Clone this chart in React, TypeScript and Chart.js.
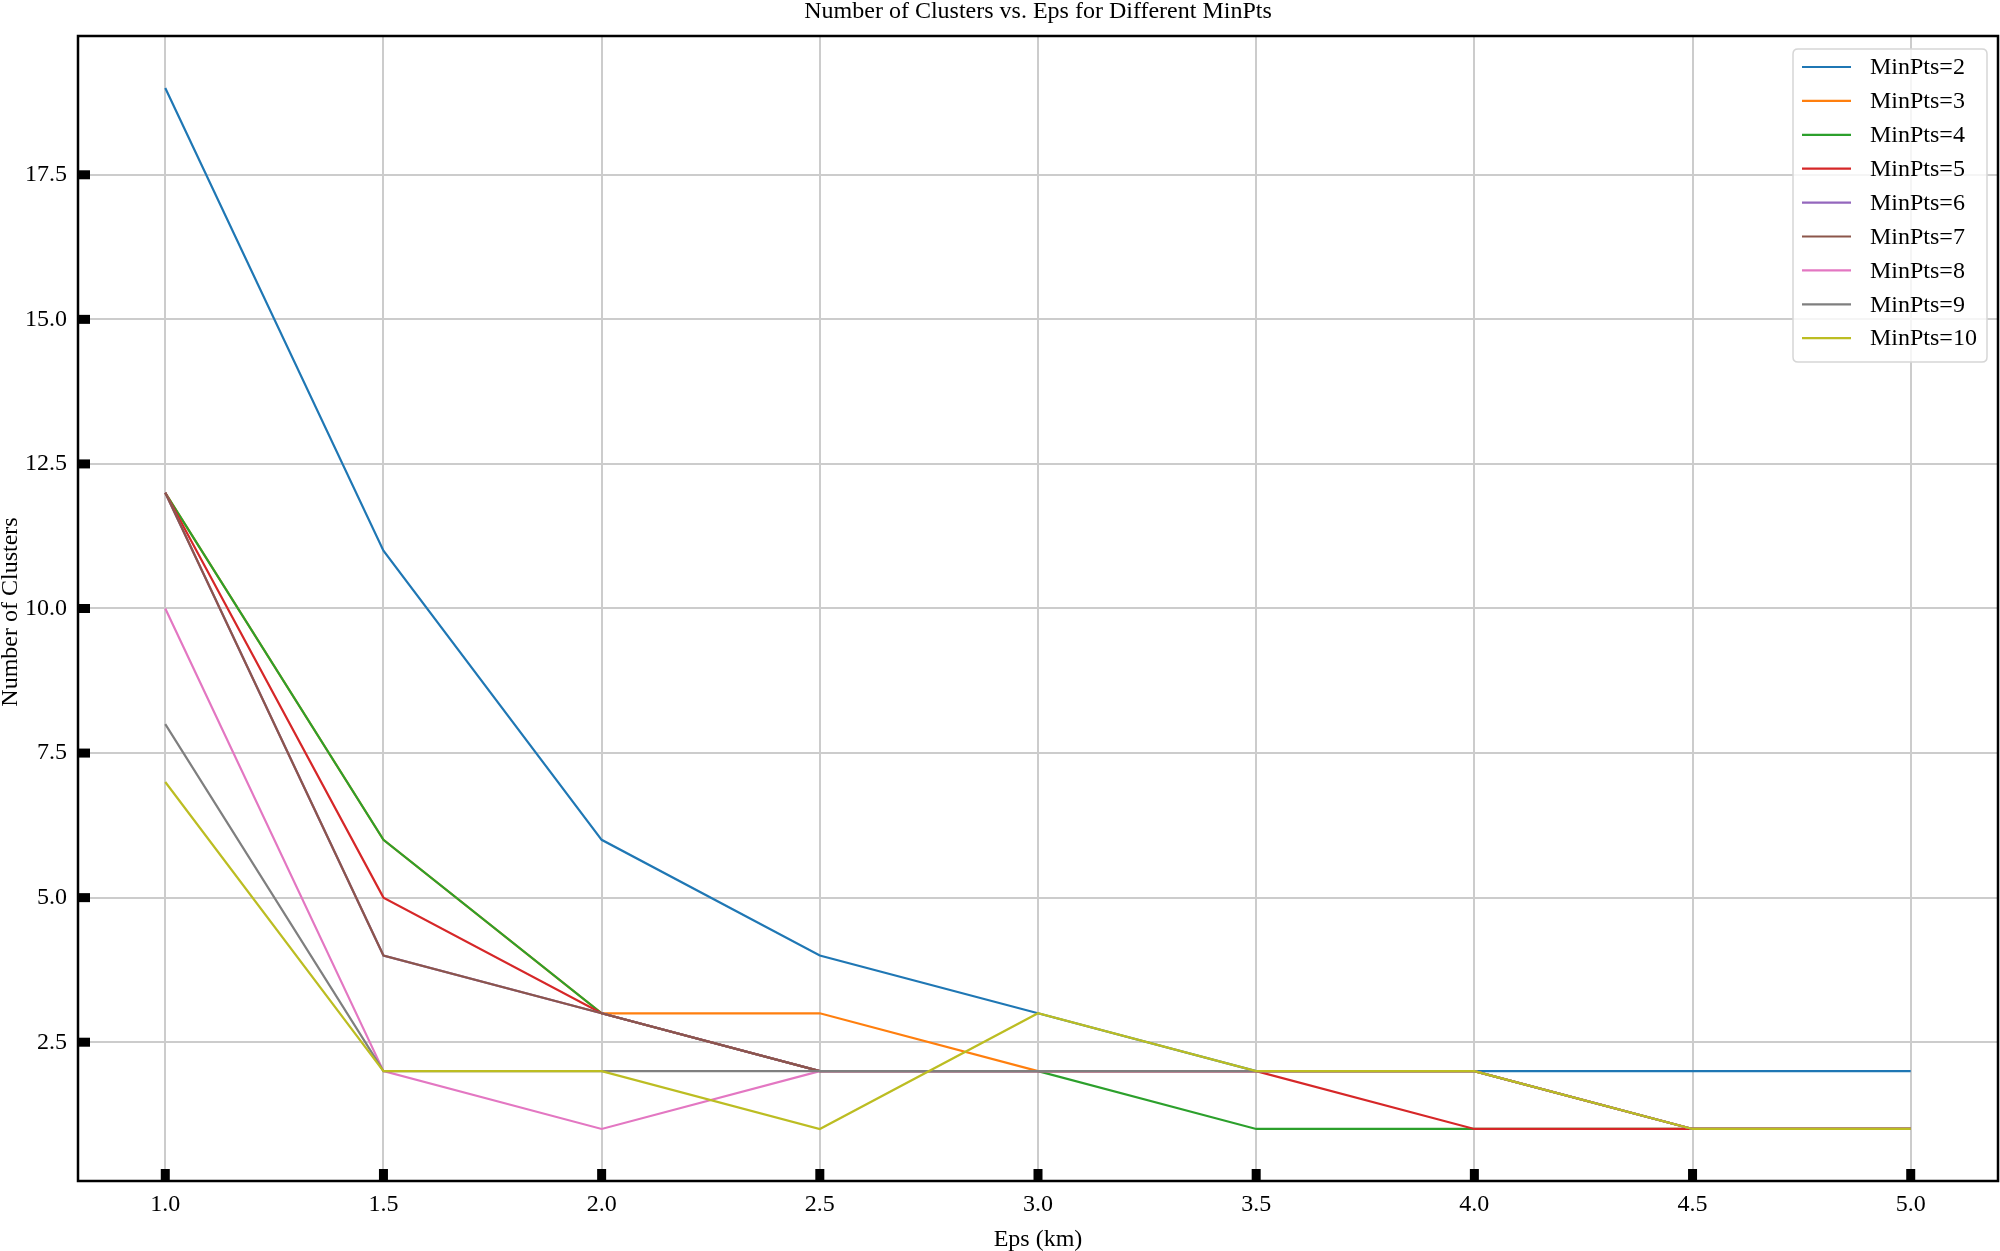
import React, { useEffect, useRef } from "react";
import { Chart, registerables } from "chart.js";

Chart.register(...registerables);

const EPS = [1.0, 1.5, 2.0, 2.5, 3.0, 3.5, 4.0, 4.5, 5.0];
const MINPTS_2 = [19, 11, 6, 4, 3, 2, 2, 2, 2];
const MINPTS_3 = [12, 6, 3, 3, 2, 2, 2, 1, 1];
const MINPTS_4 = [12, 6, 3, 2, 2, 1, 1, 1, 1];
const MINPTS_5 = [12, 5, 3, 2, 2, 2, 1, 1, 1];
const MINPTS_6 = [12, 4, 3, 2, 2, 2, 2, 1, 1];
const MINPTS_7 = [12, 4, 3, 2, 2, 2, 2, 1, 1];
const MINPTS_8 = [10, 2, 1, 2, 2, 2, 2, 1, 1];
const MINPTS_9 = [8, 2, 2, 2, 2, 2, 2, 1, 1];
const MINPTS_10 = [7, 2, 2, 1, 3, 2, 2, 1, 1];

const SERIES_LABELS = ["MinPts=2", "MinPts=3", "MinPts=4", "MinPts=5", "MinPts=6", "MinPts=7", "MinPts=8", "MinPts=9", "MinPts=10"];
const SERIES_VALUES = [MINPTS_2, MINPTS_3, MINPTS_4, MINPTS_5, MINPTS_6, MINPTS_7, MINPTS_8, MINPTS_9, MINPTS_10];
const COLORS = ["#1f77b4", "#ff7f0e", "#2ca02c", "#d62728", "#9467bd", "#8c564b", "#e377c2", "#7f7f7f", "#bcbd22"];

const X_TICKS = [1.0, 1.5, 2.0, 2.5, 3.0, 3.5, 4.0, 4.5, 5.0];
const Y_TICKS = [2.5, 5.0, 7.5, 10.0, 12.5, 15.0, 17.5];

const TITLE = "Number of Clusters vs. Eps for Different MinPts";
const X_TITLE = "Eps (km)";
const Y_TITLE = "Number of Clusters";

const FONT = "'Liberation Serif', 'DejaVu Serif', serif";
const FS = 24;

const decorPlugin = {
  id: "decor",
  afterDraw(chart: any) {
    const ctx = chart.ctx;
    const { left, right, top, bottom } = chart.chartArea;
    const xs = chart.scales.x;
    const ys = chart.scales.y;
    ctx.save();
    // inward ticks
    ctx.fillStyle = "#000";
    X_TICKS.forEach((v) => {
      const px = xs.getPixelForValue(v);
      ctx.fillRect(px - 4.5, bottom - 12, 9, 12);
    });
    Y_TICKS.forEach((v) => {
      const py = ys.getPixelForValue(v);
      ctx.fillRect(left, py - 4.5, 12, 9);
    });
    // frame
    ctx.strokeStyle = "#000";
    ctx.lineWidth = 2.5;
    ctx.strokeRect(left, top, right - left, bottom - top);
    // texts
    ctx.fillStyle = "#000";
    ctx.font = `${FS}px ${FONT}`;
    ctx.textAlign = "center";
    ctx.textBaseline = "middle";
    ctx.fillText(TITLE, (left + right) / 2, 12);
    ctx.fillText(X_TITLE, (left + right) / 2, 1240);
    ctx.save();
    ctx.translate(11, 612);
    ctx.rotate(-Math.PI / 2);
    ctx.fillText(Y_TITLE, 0, 0);
    ctx.restore();
    // legend
    const bx = 1793, by = 49, bw = 194, bh = 313, r = 5;
    ctx.beginPath();
    ctx.moveTo(bx + r, by);
    ctx.lineTo(bx + bw - r, by);
    ctx.quadraticCurveTo(bx + bw, by, bx + bw, by + r);
    ctx.lineTo(bx + bw, by + bh - r);
    ctx.quadraticCurveTo(bx + bw, by + bh, bx + bw - r, by + bh);
    ctx.lineTo(bx + r, by + bh);
    ctx.quadraticCurveTo(bx, by + bh, bx, by + bh - r);
    ctx.lineTo(bx, by + r);
    ctx.quadraticCurveTo(bx, by, bx + r, by);
    ctx.closePath();
    ctx.fillStyle = "rgba(255,255,255,0.8)";
    ctx.fill();
    ctx.strokeStyle = "#d6d6d6";
    ctx.lineWidth = 1.5;
    ctx.stroke();
    ctx.textAlign = "left";
    ctx.textBaseline = "middle";
    SERIES_LABELS.forEach((lab, i) => {
      const yy = 67 + i * 33.9;
      ctx.strokeStyle = COLORS[i];
      ctx.lineWidth = 2.2;
      ctx.beginPath();
      ctx.moveTo(1802, yy);
      ctx.lineTo(1851, yy);
      ctx.stroke();
      ctx.fillStyle = "#000";
      ctx.fillText(lab, 1870, yy + 1);
    });
    ctx.restore();
  },
};

export default function App() {
  const ref = useRef<HTMLCanvasElement | null>(null);
  useEffect(() => {
    if (!ref.current) return;
    const n = SERIES_VALUES.length;
    const datasets = SERIES_VALUES.map((vals, i) => ({
      label: SERIES_LABELS[i],
      data: EPS.map((x, j) => ({ x, y: vals[j] })),
      borderColor: COLORS[i],
      backgroundColor: COLORS[i],
      borderWidth: 2.2,
      pointRadius: 0,
      tension: 0,
      fill: false,
      order: n - i,
    }));
    const chart = new Chart(ref.current, {
      type: "line",
      data: { datasets },
      plugins: [decorPlugin],
      options: {
        animation: false,
        responsive: false,
        devicePixelRatio: 1,
        layout: { padding: { top: 36, right: 2, left: 0, bottom: 0 } },
        plugins: { legend: { display: false }, title: { display: false }, tooltip: { enabled: false } },
        scales: {
          x: {
            type: "linear",
            min: 0.8,
            max: 5.2,
            afterBuildTicks: (s: any) => {
              s.ticks = X_TICKS.map((v) => ({ value: v }));
            },
            afterFit: (s: any) => {
              s.height = 70;
            },
            grid: { color: "#cccccc", lineWidth: 2, drawTicks: false },
            border: { display: false },
            ticks: {
              padding: 9,
              color: "#000",
              font: { family: FONT, size: FS },
              maxRotation: 0,
              callback: (v: any) => Number(v).toFixed(1),
            },
          },
          y: {
            type: "linear",
            min: 0.1,
            max: 19.9,
            afterBuildTicks: (s: any) => {
              s.ticks = Y_TICKS.map((v) => ({ value: v }));
            },
            afterFit: (s: any) => {
              s.width = 78;
            },
            grid: { color: "#cccccc", lineWidth: 2, drawTicks: false },
            border: { display: false },
            ticks: {
              padding: 11,
              color: "#000",
              font: { family: FONT, size: FS },
              callback: (v: any) => Number(v).toFixed(1),
            },
          },
        },
      },
    });
    return () => chart.destroy();
  }, []);
  return (
    <div style={{ position: "absolute", left: 0, top: 0, width: 2000, height: 1251, background: "#fff" }}>
      <canvas ref={ref} width={2000} height={1251} style={{ display: "block" }} />
    </div>
  );
}
